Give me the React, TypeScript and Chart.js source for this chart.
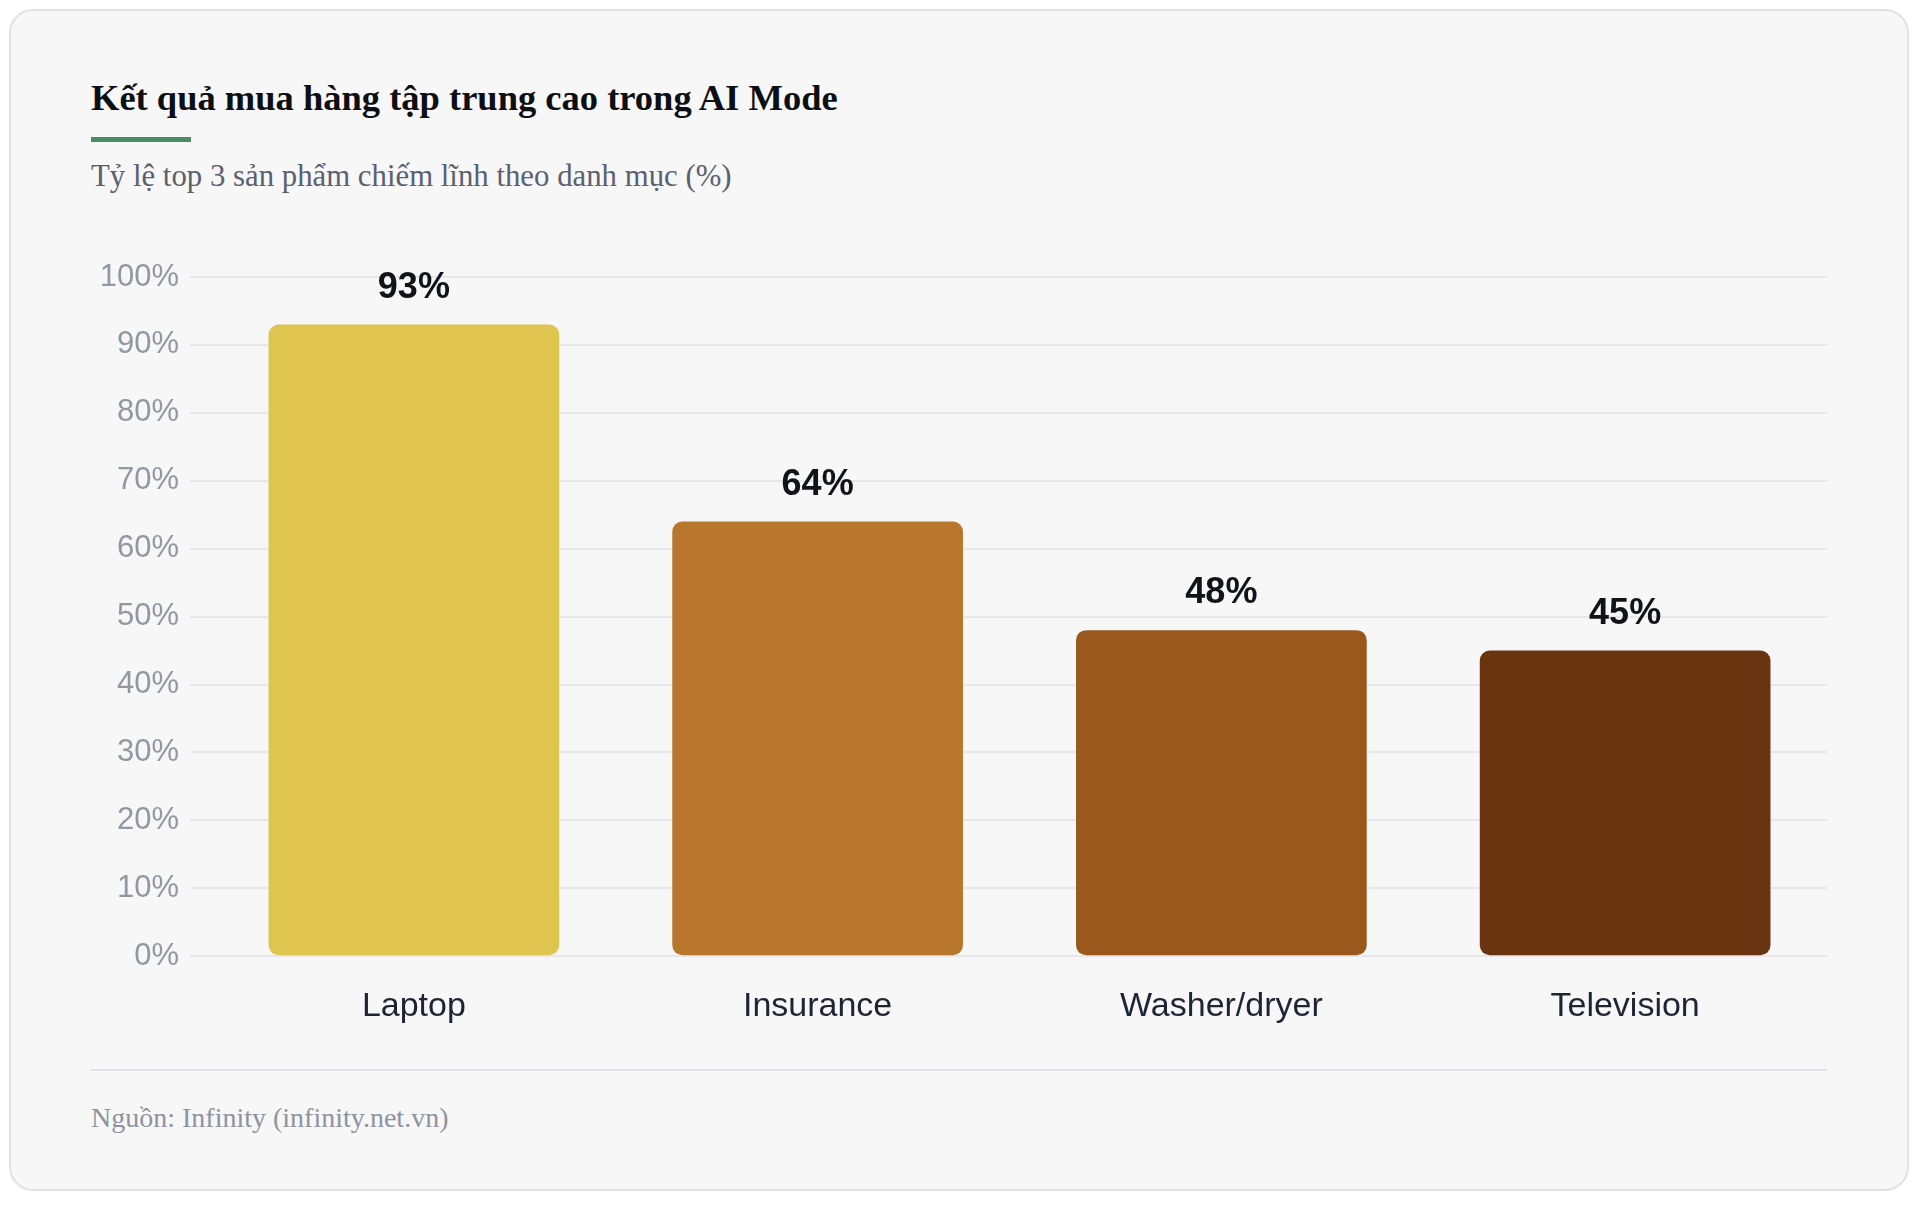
import { useEffect, useRef } from "react";
import { Chart, registerables } from "chart.js";

Chart.register(...registerables);

// Share of purchases taken by the top 3 products, per category (%)
const categories = ["Laptop", "Insurance", "Washer/dryer", "Television"];
const shares = [93, 64, 48, 45];
const barColors = ["#dfc44f", "#b8772c", "#9a581c", "#693410"];
const yTickValues = [0, 10, 20, 30, 40, 50, 60, 70, 80, 90, 100];

const SANS = "'Liberation Sans', Arial, Helvetica, sans-serif";
const SERIF = "'Liberation Serif', 'Times New Roman', Times, serif";

// Bold value printed above each bar
const valueLabels = {
  id: "valueLabels",
  afterDatasetsDraw(chart: any) {
    const { ctx } = chart;
    const meta = chart.getDatasetMeta(0);
    ctx.save();
    ctx.font = `bold 36px ${SANS}`;
    ctx.fillStyle = "#111318";
    ctx.textAlign = "center";
    ctx.textBaseline = "alphabetic";
    meta.data.forEach((bar: any, i: number) => {
      ctx.fillText(`${shares[i]}%`, bar.x, bar.y - 27);
    });
    ctx.restore();
  },
};

function ShareChart() {
  const canvasRef = useRef<HTMLCanvasElement | null>(null);

  useEffect(() => {
    if (!canvasRef.current) return;
    const chart = new Chart(canvasRef.current, {
      type: "bar",
      data: {
        labels: categories,
        datasets: [
          {
            data: shares,
            backgroundColor: barColors,
            borderWidth: 0,
            borderRadius: 10,
            borderSkipped: false,
          },
        ],
      },
      options: {
        animation: false,
        responsive: true,
        maintainAspectRatio: false,
        devicePixelRatio: 1,
        layout: { padding: { top: 40, left: 11, right: 0, bottom: 0 } },
        plugins: {
          legend: { display: false },
          tooltip: { enabled: false },
        },
        scales: {
          x: {
            grid: { display: false, drawTicks: false },
            border: { display: false },
            ticks: {
              color: "#1e2433",
              padding: 30,
              font: { family: SANS, size: 34 },
            },
          },
          y: {
            min: 0,
            max: 100,
            afterBuildTicks: (scale: any) => {
              scale.ticks = yTickValues.map((v) => ({ value: v }));
            },
            afterFit: (scale: any) => {
              scale.width = 110;
            },
            grid: {
              color: "#e7e7e9",
              lineWidth: 2,
              drawTicks: true,
              tickLength: 22,
              tickColor: "#e7e7e9",
            },
            border: { display: false },
            ticks: {
              color: "#9197a3",
              padding: 11,
              font: { family: SANS, size: 31 },
              callback: (v: any) => `${v}%`,
            },
          },
        },
      },
      plugins: [valueLabels],
    });
    return () => chart.destroy();
  }, []);

  return <canvas ref={canvasRef} />;
}

export default function App() {
  return (
    <div
      style={{
        position: "absolute",
        left: 9,
        top: 9,
        width: 1900,
        height: 1182,
        boxSizing: "border-box",
        border: "2px solid #e1e2e6",
        borderRadius: 24,
        background: "#f7f7f7",
      }}
    >
      <div
        style={{
          position: "absolute",
          left: 80,
          top: 69,
          fontFamily: SERIF,
          fontWeight: 700,
          fontSize: 36.5,
          lineHeight: "36px",
          color: "#0d0f14",
          whiteSpace: "nowrap",
        }}
      >
        Kết quả mua hàng tập trung cao trong AI Mode
      </div>
      <div
        style={{
          position: "absolute",
          left: 80,
          top: 126,
          width: 100,
          height: 5,
          background: "#4b8b64",
        }}
      />
      <div
        style={{
          position: "absolute",
          left: 80,
          top: 150,
          fontFamily: SERIF,
          fontSize: 30.8,
          lineHeight: "31px",
          color: "#5b6070",
          whiteSpace: "nowrap",
        }}
      >
        Tỷ lệ top 3 sản phẩm chiếm lĩnh theo danh mục (%)
      </div>
      <div
        style={{
          position: "absolute",
          left: 80,
          top: 226,
          width: 1736,
          height: 820,
        }}
      >
        <ShareChart />
      </div>
      <div
        style={{
          position: "absolute",
          left: 80,
          top: 1058,
          width: 1736,
          height: 2,
          background: "#e1e2e6",
        }}
      />
      <div
        style={{
          position: "absolute",
          left: 80,
          top: 1093,
          fontFamily: SERIF,
          fontSize: 28,
          lineHeight: "28px",
          color: "#8d93a0",
          whiteSpace: "nowrap",
        }}
      >
        Nguồn: Infinity (infinity.net.vn)
      </div>
    </div>
  );
}
